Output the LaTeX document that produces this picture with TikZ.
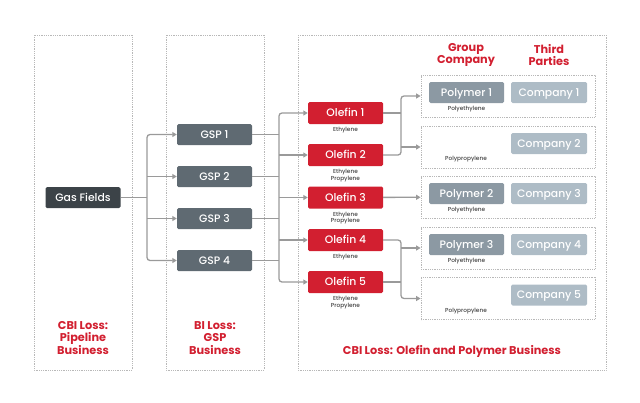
\documentclass[tikz,border=0pt]{standalone}
\usepackage{fontspec}
\setmainfont{Poppins}
\newfontfamily\medfont{Poppins Medium}
\usetikzlibrary{arrows.meta, positioning}
\definecolor{lossred}{HTML}{D21F30}
\definecolor{gasgray}{HTML}{3C4348}
\definecolor{gspgray}{HTML}{5F6A72}
\definecolor{polygray}{HTML}{8C99A3}
\definecolor{compgray}{HTML}{AEBCC6}
\definecolor{linegray}{HTML}{9A9A9A}
\definecolor{dotgray}{HTML}{B8B8B8}
\definecolor{subgray}{HTML}{444444}

\begin{document}
\begin{tikzpicture}[x=1pt,y=-1pt,
  box/.style={rounded corners=1.5pt,minimum width=75pt,minimum height=21pt,
    inner sep=0pt,text height=7.6pt,text depth=0pt,text=white,
    font=\medfont\fontsize{10.8}{12}\selectfont},
  gasbox/.style={box,fill=gasgray},
  gspbox/.style={box,fill=gspgray},
  olefin/.style={box,fill=lossred,minimum height=22pt},
  polymer/.style={box,fill=polygray},
  company/.style={box,fill=compgray,minimum width=76pt},
  grp/.style={draw=dotgray,densely dotted,line width=0.8pt,
    minimum width=174pt,minimum height=42pt,inner sep=0pt},
  zone/.style={draw=dotgray,densely dotted,line width=0.8pt},
  sub/.style={font=\medfont\fontsize{5.8}{6.4}\selectfont,text=subgray,align=center,inner sep=0pt},
  loss/.style={font=\bfseries\fontsize{11.3}{12.5}\selectfont,text=lossred,align=center},
  link/.style={draw=linegray,line width=1.3pt},
  arr/.style={link,-{Triangle[length=4.5pt,width=5pt]}},
  both/.style={link,{Triangle[length=4.5pt,width=5pt]}-{Triangle[length=4.5pt,width=5pt]}}]
  \useasboundingbox (0,0) rectangle (640,402);

  % business zones
  \draw[zone] (34,35) rectangle (132,370);
  \draw[zone] (166,35) rectangle (264,370);
  \draw[zone] (298,35) rectangle (606,370);

  % group boxes
  \node[grp] (g1) at (508,96)    {};
  \node[grp] (g2) at (508,147)   {};
  \node[grp] (g3) at (508,197)   {};
  \node[grp] (g4) at (508,248)   {};
  \node[grp] (g5) at (508,298.5) {};

  % boxes
  \node[gasbox] (gas) at (83,197.5) {Gas Fields};
  \node[gspbox] (gsp1) at (214.5,134.5) {GSP 1};
  \node[gspbox] (gsp2) at (214.5,176.5) {GSP 2};
  \node[gspbox] (gsp3) at (214.5,218.5) {GSP 3};
  \node[gspbox] (gsp4) at (214.5,260.5) {GSP 4};
  \node[olefin] (ol1) at (345.5,113)   {Olefin 1};
  \node[olefin] (ol2) at (345.5,155)   {Olefin 2};
  \node[olefin] (ol3) at (345.5,197.5) {Olefin 3};
  \node[olefin] (ol4) at (345.5,240)   {Olefin 4};
  \node[olefin] (ol5) at (345.5,282)   {Olefin 5};
  \node[polymer] (p1) at (466.5,92.5)  {Polymer 1};
  \node[polymer] (p2) at (466.5,193.5) {Polymer 2};
  \node[polymer] (p3) at (466.5,244.5) {Polymer 3};
  \node[company] (c1) at (549,92.5)  {Company 1};
  \node[company] (c2) at (549,143.5) {Company 2};
  \node[company] (c3) at (549,193.5) {Company 3};
  \node[company] (c4) at (549,244.5) {Company 4};
  \node[company] (c5) at (549,295)   {Company 5};

  % product labels
  \node[sub,below=3pt of ol1] (s1) {Ethylene};
  \node[sub,below=3pt of ol2] (s2) {Ethylene\\Propylene};
  \node[sub,below=3pt of ol3] (s3) {Ethylene\\Propylene};
  \node[sub,below=3pt of ol4] (s4) {Ethylene};
  \node[sub,below=3pt of ol5] (s5) {Ethylene\\Propylene};
  \node[sub,below=3pt of p1] (t1) {Polyethylene};
  \node[sub] (t2) at (466,159) {Polypropylene};
  \node[sub,below=3pt of p2] (t3) {Polyethylene};
  \node[sub,below=3pt of p3] (t4) {Polyethylene};
  \node[sub] (t5) at (466,311) {Polypropylene};

  % headings
  \node[loss] (hg) at (466,55) {Group\\Company};
  \node[loss] (ht) at (549,55) {Third\\Parties};
  \node[loss] (l1) at (83,338)  {CBI Loss:\\Pipeline\\Business};
  \node[loss] (l2) at (215,338) {BI Loss:\\GSP\\Business};
  \node[loss] (l3) at (452,351) {CBI Loss: Olefin and Polymer Business};

  % junctions
  \coordinate (j1) at (147,197.5);
  \coordinate (j2) at (279,197.5);
  \coordinate (j3) at (401,197);

  % gas fields to GSPs
  \draw[link] (gas) -- (j1);
  \draw[both,rounded corners=3] (gsp1) -| (j1) |- (gsp4);
  \draw[arr] (gsp2 -| j1) -- (gsp2);
  \draw[arr] (gsp3 -| j1) -- (gsp3);

  % GSPs to olefins
  \draw[both,rounded corners=3] (ol1) -| (j2) |- (ol5);
  \draw[arr] (ol2 -| j2) -- (ol2);
  \draw[arr] (ol3 -| j2) -- (ol3);
  \draw[arr] (ol4 -| j2) -- (ol4);
  \foreach \g in {gsp1,gsp2,gsp3,gsp4}
    \draw[link] (\g) -- (\g -| j2);

  % olefins to polymers
  \draw[arr,rounded corners=3] (ol2) -| (j3 |- g1) -- (g1);
  \draw[link] (ol1) -- (ol1 -| j3);
  \draw[arr] (j3 |- g2) -- (g2);
  \draw[arr] (ol3) -- (g3);
  \draw[arr,rounded corners=3] (ol4) -| (j3 |- g5) -- (g5);
  \draw[link] (ol5) -- (ol5 -| j3);
  \draw[arr] (j3 |- g4) -- (g4);
\end{tikzpicture}
\end{document}
